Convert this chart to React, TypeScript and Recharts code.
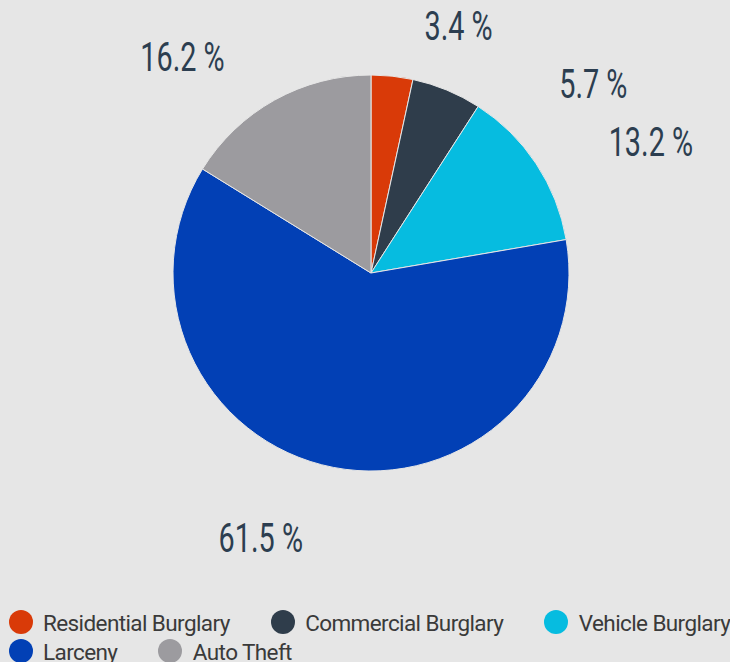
import React from 'react';
import { PieChart, Pie, Cell, Legend } from 'recharts';

// crime share by category, percent
const categories = ['Residential Burglary', 'Commercial Burglary', 'Vehicle Burglary', 'Larceny', 'Auto Theft'];
const shares = [3.4, 5.7, 13.2, 61.5, 16.2];
const colors = ['#d93a08', '#2f3d4b', '#06bce0', '#0240b5', '#9c9b9f'];

// label placement tweaks (the original nudges labels off the radial line)
const labelShift = [-13.4, -27.1, -8.4, -11.6, 11.9];
const labelRadius = [262, 292, 309, 287, 287];

const data = categories.map((name, i) => ({ name, value: shares[i] }));

const RAD = Math.PI / 180;

function renderLabel(props: any) {
  const { cx, cy, midAngle, index, value } = props;
  const a = (midAngle + labelShift[index]) * RAD;
  const r = labelRadius[index];
  const x = cx + r * Math.cos(-a);
  const y = cy + r * Math.sin(-a);
  return (
    <text
      x={0}
      y={0}
      dy="0.36em"
      transform={`translate(${x},${y}) scale(0.72,1)`}
      textAnchor="middle"
      fill="#2c3e50"
      fontFamily="Roboto, sans-serif"
      fontSize={40}
    >
      {`${Number(value).toFixed(1)} %`}
    </text>
  );
}

function LegendContent() {
  return (
    <div
      style={{
        display: 'flex',
        flexWrap: 'wrap',
        columnGap: 41,
        width: 748,
        fontFamily: 'Roboto, sans-serif',
        fontSize: 22.5,
        letterSpacing: -0.6,
        color: '#3a3a3a',
      }}
    >
      {categories.map((c, i) => (
        <div key={c} style={{ display: 'flex', alignItems: 'center', height: 29, whiteSpace: 'nowrap' }}>
          <span
            style={{
              display: 'inline-block',
              width: 24,
              height: 24,
              borderRadius: '50%',
              background: colors[i],
              marginLeft: i === 0 || i === 3 ? 8.5 : 0,
              marginRight: 10.5,
            }}
          />
          <span style={{ lineHeight: '29px', position: 'relative', top: 2 }}>{c}</span>
        </div>
      ))}
    </div>
  );
}

export default function App() {
  return (
    <div style={{ position: 'absolute', left: 0, top: 0, width: 730, height: 662, background: '#e6e6e6', overflow: 'hidden' }}>
      <PieChart width={730} height={662} margin={{ top: 0, right: 0, bottom: 0, left: 0 }}>
        <Pie
          data={data}
          dataKey="value"
          nameKey="name"
          cx={371}
          cy={273}
          outerRadius={198}
          startAngle={90}
          endAngle={-270}
          stroke="#e6e6e6"
          strokeWidth={1}
          label={renderLabel}
          labelLine={false}
          isAnimationActive={false}
        >
          {data.map((d, i) => (
            <Cell key={d.name} fill={colors[i]} />
          ))}
        </Pie>
        <Legend
          content={<LegendContent />}
          wrapperStyle={{ position: 'absolute', left: 0, top: 607, width: 748 }}
        />
      </PieChart>
    </div>
  );
}
